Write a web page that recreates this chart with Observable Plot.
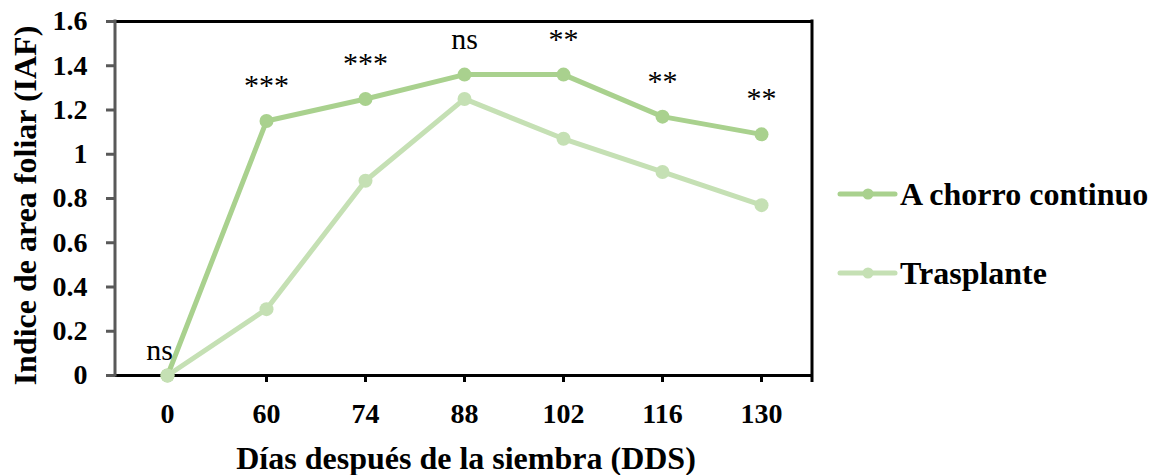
<!DOCTYPE html>
<html lang="es">
<head>
<meta charset="utf-8">
<script src="https://cdn.jsdelivr.net/npm/d3@7"></script>
<script src="https://cdn.jsdelivr.net/npm/@observablehq/plot@0.6"></script>
<style>
  html, body { margin: 0; padding: 0; background: #fff; }
  #chart { position: relative; width: 1159px; height: 475px; font-family: "Liberation Serif", "Times New Roman", serif; }
  #legend { position: absolute; left: 830px; top: 160px; }
</style>
</head>
<body>
<div id="chart"></div>
<script>
// Días después de la siembra (categorías del eje X)
const dias = ["0", "60", "74", "88", "102", "116", "130"];
// Índice de área foliar por método de siembra
const chorroContinuo = [0, 1.15, 1.25, 1.36, 1.36, 1.17, 1.09];
const trasplante = [0, 0.30, 0.88, 1.25, 1.07, 0.92, 0.77];
// Significancia estadística en cada fecha
const significancia = ["ns", "***", "***", "ns", "**", "**", "**"];
// Marcas del eje Y
const yTicks = [0, 0.2, 0.4, 0.6, 0.8, 1, 1.2, 1.4, 1.6];

const series = [
  {name: "A chorro continuo", values: chorroContinuo, color: "#A9D18E"},
  {name: "Trasplante", values: trasplante, color: "#C5E0B4"}
];

const rows = s => dias.map((d, i) => ({dia: d, valor: s.values[i]}));
const notas = dias.map((d, i) => ({
  dia: d,
  valor: Math.max(chorroContinuo[i], trasplante[i]),
  texto: significancia[i]
}));

// Bordes verticales: eje izquierdo gris y borde derecho negro
function bordes(index, scales, values, dim) {
  const g = d3.create("svg:g");
  const x0 = dim.marginLeft, x1 = dim.width - dim.marginRight;
  const y0 = dim.marginTop, y1 = dim.height - dim.marginBottom;
  g.append("line").attr("x1", x1).attr("x2", x1).attr("y1", y0 - 1.5).attr("y2", y1 + 7)
    .attr("stroke", "black").attr("stroke-width", 3);
  g.append("line").attr("x1", x0).attr("x2", x0).attr("y1", y0 - 1.5).attr("y2", y1 + 1.5)
    .attr("stroke", "#595959").attr("stroke-width", 3);
  return g.node();
}

const plot = Plot.plot({
  width: 1159,
  height: 475,
  marginLeft: 115,
  marginRight: 347,
  marginTop: 21,
  marginBottom: 100,
  style: {fontFamily: "Liberation Serif, Times New Roman, serif", background: "white", overflow: "visible"},
  x: {type: "point", domain: dias, padding: 0.5},
  y: {domain: [0, 1.6]},
  marks: [
    Plot.ruleY([yTicks[0], yTicks[yTicks.length - 1]], {stroke: "black", strokeWidth: 3}),
    Plot.axisY({ticks: yTicks, tickFormat: d => String(d), tickSize: 9, tickPadding: 19,
      stroke: "#595959", strokeWidth: 3, fill: "black", fontSize: 28, fontWeight: "bold", label: null}),
    Plot.axisX({tickSize: 7, tickPadding: 21, stroke: "black", strokeWidth: 3,
      fill: "black", fontSize: 28, fontWeight: "bold", label: null}),
    bordes,
    ...series.flatMap(s => [
      Plot.line(rows(s), {x: "dia", y: "valor", stroke: s.color, strokeWidth: 5}),
      Plot.dot(rows(s), {x: "dia", y: "valor", fill: s.color, r: 7})
    ]),
    Plot.text(notas.slice(0, 1), {x: "dia", y: "valor", text: "texto", lineAnchor: "bottom",
      dx: -8, dy: -16, fontSize: 30, fill: "black"}),
    Plot.text(notas.slice(1), {x: "dia", y: "valor", text: "texto", lineAnchor: "bottom",
      dy: -26, fontSize: 30, fill: "black"}),
    Plot.text(["Días después de la siembra (DDS)"], {frameAnchor: "bottom", lineAnchor: "middle",
      textAnchor: "middle", dx: 2, dy: 83, fontSize: 32, fontWeight: "bold", fill: "black"}),
    Plot.text(["Indice de area foliar (IAF)"], {frameAnchor: "left", lineAnchor: "middle",
      textAnchor: "middle", rotate: -90, dx: -90, dy: 7, fontSize: 32, fontWeight: "bold", fill: "black"})
  ]
});

const chart = document.getElementById("chart");
chart.appendChild(plot);

// Leyenda a la derecha del gráfico
const legend = d3.select(chart).append("svg")
  .attr("id", "legend").attr("width", 329).attr("height", 150)
  .style("font-family", "Liberation Serif, Times New Roman, serif");
series.forEach((s, i) => {
  const y = 34 + i * 79;
  const item = legend.append("g").attr("transform", `translate(0,${y})`);
  item.append("line").attr("x1", 10).attr("x2", 65).attr("y1", 0).attr("y2", 0)
    .attr("stroke", s.color).attr("stroke-width", 5).attr("stroke-linecap", "round");
  item.append("circle").attr("cx", 38).attr("cy", 0).attr("r", 5.5).attr("fill", s.color);
  item.append("text").attr("x", 70).attr("y", 11).attr("font-size", 32).attr("font-weight", "bold")
    .attr("fill", "black").text(s.name);
});
</script>
</body>
</html>
